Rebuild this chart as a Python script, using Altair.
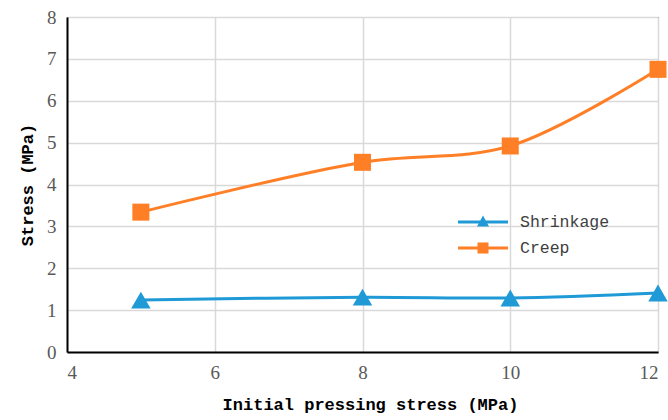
import altair as alt
import pandas as pd

pressing = [5, 8, 10, 12]
shrinkage = [1.24, 1.31, 1.29, 1.41]
creep = [3.34, 4.53, 4.92, 6.75]
series_names = ["Shrinkage", "Creep"]
colors = ["#1F9AD6", "#FF7F27"]

rows = []
for x, v in zip(pressing, shrinkage):
    rows.append({"x": x, "y": v, "series": "Shrinkage"})
for x, v in zip(pressing, creep):
    rows.append({"x": x, "y": v, "series": "Creep"})
df = pd.DataFrame(rows)

xenc = alt.X("x:Q", scale=alt.Scale(domain=[4, 12], nice=False),
             axis=alt.Axis(values=[4, 6, 8, 10, 12], title="Initial pressing stress (MPa)",
                           titlePadding=14, titleX=303, titleAlign="center"))
yenc = alt.Y("y:Q", scale=alt.Scale(domain=[0, 8], nice=False),
             axis=alt.Axis(values=[0, 1, 2, 3, 4, 5, 6, 7, 8], title="Stress (MPa)",
                          titlePadding=10))
cenc = alt.Color("series:N", scale=alt.Scale(domain=series_names, range=colors), legend=None)

base = alt.Chart(df)

lines = base.mark_line(interpolate="catmull-rom", strokeWidth=3).encode(
    x=xenc, y=yenc, color=cenc, detail="series:N")

points = base.mark_point(filled=True, opacity=1).encode(
    x=xenc, y=yenc, color=cenc,
    shape=alt.Shape("series:N", scale=alt.Scale(domain=series_names, range=["triangle-up", "square"]),
                    legend=None),
    size=alt.Size("series:N", scale=alt.Scale(domain=series_names, range=[380, 290]), legend=None),
)

legend_paths = [
    "M-2.5,-0.15H2.5V0.15H-2.5Z M-0.6,0.45L0,-0.65L0.6,0.45Z",
    "M-2.5,-0.15H2.5V0.15H-2.5Z M-0.55,-0.55H0.55V0.55H-0.55Z",
]

legend_layer = base.transform_filter("false").mark_point(filled=True, opacity=1).encode(
    x=xenc, y=yenc,
    color=alt.Color("series:N", scale=alt.Scale(domain=series_names, range=colors),
                    legend=alt.Legend(title=None, orient="none", legendX=405, legendY=194,
                                      symbolSize=400, symbolOpacity=1,
                                      labelOffset=26, rowPadding=6,
                                      labelFont="Liberation Mono", labelFontSize=16.5,
                                      labelColor="#404040")),
    shape=alt.Shape("series:N", scale=alt.Scale(domain=series_names, range=legend_paths)),
)

chart = alt.layer(lines, points, legend_layer).resolve_scale(
    shape="independent", color="independent", size="independent"
).properties(
    width=591, height=335,
    autosize=alt.AutoSizeParams(type="none"),
    padding={"left": 67, "top": 17, "right": 10, "bottom": 68},
    background="white",
).configure_view(
    stroke="black", strokeWidth=1
).configure_axis(
    domainColor="black", domainWidth=2, ticks=False,
    gridColor="#D9D9D9", gridWidth=1.5,
    labelFont="Liberation Serif, DejaVu Serif, serif", labelFontSize=19, labelColor="#595959",
    labelPadding=11,
    titleFont="Liberation Mono, DejaVu Sans Mono, monospace", titleFontSize=17, titleFontWeight="bold",
    titleColor="black",
)

chart.save("out.html", embed_options={"renderer": "svg", "actions": False})
